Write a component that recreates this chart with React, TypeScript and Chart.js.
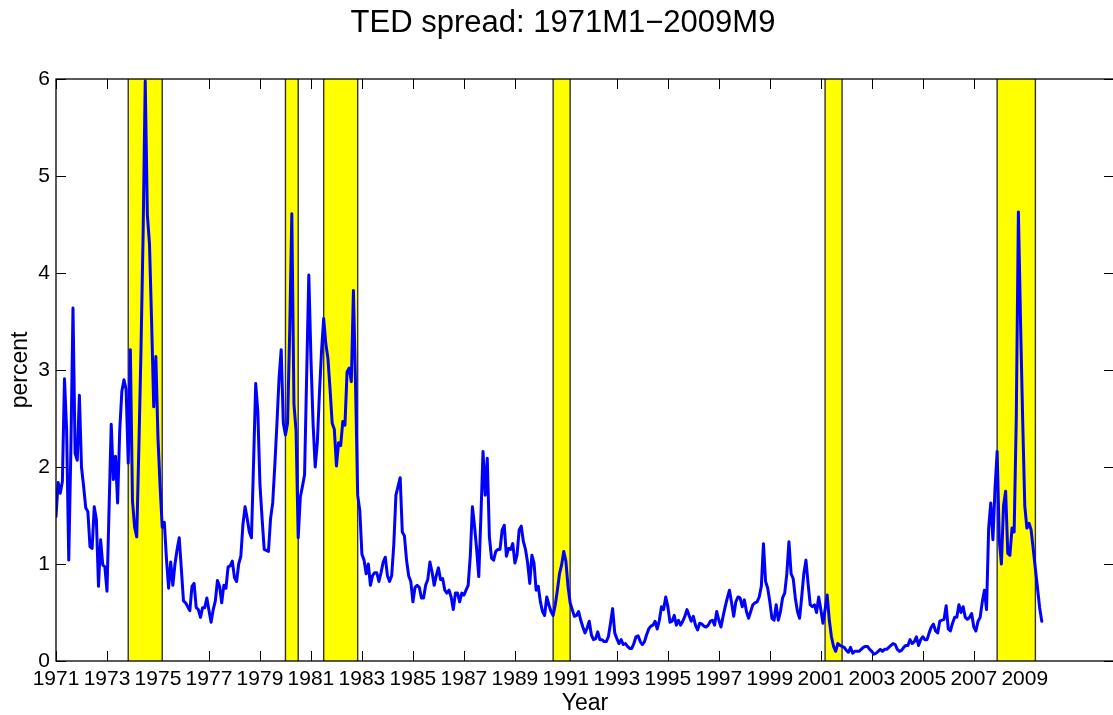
import React, { useEffect, useRef } from "react";
import { Chart, registerables } from "chart.js";

Chart.register(...registerables);

// ---------- DATA (monthly TED spread, percent) ----------
const FIRST_YEAR = 1971;
const ted1971 = [1.49, 1.84, 1.73, 1.85, 2.91, 2.38, 1.04, 2.18, 3.64, 2.14, 2.07, 2.74];
const ted1972 = [2.0, 1.8, 1.58, 1.54, 1.18, 1.16, 1.59, 1.46, 0.77, 1.25, 0.99, 0.97];
const ted1973 = [0.72, 1.59, 2.44, 1.87, 2.11, 1.63, 2.38, 2.78, 2.9, 2.8, 2.04, 3.21];
const ted1974 = [1.65, 1.38, 1.28, 2.2, 3.2, 4.4, 5.98, 4.6, 4.3, 3.5, 2.62, 3.14];
const ted1975 = [2.3, 1.8, 1.38, 1.43, 1.05, 0.75, 1.02, 0.78, 1.0, 1.15, 1.27, 0.95];
const ted1976 = [0.62, 0.6, 0.56, 0.52, 0.77, 0.8, 0.55, 0.53, 0.45, 0.55, 0.55, 0.65];
const ted1977 = [0.52, 0.4, 0.53, 0.62, 0.83, 0.77, 0.6, 0.78, 0.75, 0.97, 0.98, 1.03];
const ted1978 = [0.86, 0.82, 1.0, 1.08, 1.41, 1.59, 1.47, 1.33, 1.27, 2.05, 2.86, 2.57];
const ted1979 = [1.82, 1.47, 1.15, 1.14, 1.13, 1.47, 1.63, 2.02, 2.45, 2.92, 3.21, 2.45];
const ted1980 = [2.33, 2.45, 3.4, 4.61, 2.65, 2.37, 1.27, 1.69, 1.8, 1.92, 2.96, 3.98];
const ted1981 = [3.12, 2.45, 2.0, 2.25, 2.76, 3.2, 3.53, 3.27, 3.12, 2.8, 2.45, 2.39];
const ted1982 = [2.01, 2.25, 2.22, 2.47, 2.43, 2.98, 3.02, 2.88, 3.82, 2.84, 1.71, 1.55];
const ted1983 = [1.1, 1.04, 0.9, 1.0, 0.78, 0.88, 0.91, 0.91, 0.82, 0.91, 1.02, 1.07];
const ted1984 = [0.88, 0.82, 0.88, 1.2, 1.71, 1.8, 1.89, 1.33, 1.29, 1.04, 0.88, 0.82];
const ted1985 = [0.61, 0.76, 0.78, 0.76, 0.65, 0.65, 0.78, 0.84, 1.02, 0.92, 0.78, 0.88];
const ted1986 = [0.96, 0.84, 0.85, 0.73, 0.7, 0.73, 0.66, 0.53, 0.7, 0.7, 0.61, 0.7];
const ted1987 = [0.68, 0.73, 0.78, 1.08, 1.59, 1.39, 1.15, 0.87, 1.49, 2.16, 1.71, 2.09];
const ted1988 = [1.28, 1.06, 1.04, 1.13, 1.15, 1.15, 1.35, 1.4, 1.08, 1.16, 1.15, 1.21];
const ted1989 = [1.01, 1.09, 1.35, 1.39, 1.23, 1.15, 1.01, 0.8, 1.09, 1.01, 0.73, 0.77];
const ted1990 = [0.61, 0.51, 0.47, 0.66, 0.58, 0.51, 0.47, 0.58, 0.73, 0.9, 0.99, 1.13];
const ted1991 = [1.03, 0.77, 0.6, 0.53, 0.46, 0.47, 0.51, 0.42, 0.35, 0.29, 0.34, 0.41];
const ted1992 = [0.27, 0.22, 0.23, 0.3, 0.22, 0.22, 0.2, 0.2, 0.25, 0.39, 0.54, 0.29];
const ted1993 = [0.23, 0.18, 0.22, 0.17, 0.18, 0.15, 0.13, 0.13, 0.18, 0.25, 0.26, 0.2];
const ted1994 = [0.17, 0.2, 0.27, 0.33, 0.36, 0.37, 0.41, 0.33, 0.42, 0.56, 0.53, 0.66];
const ted1995 = [0.56, 0.4, 0.41, 0.47, 0.37, 0.42, 0.37, 0.41, 0.46, 0.53, 0.47, 0.41];
const ted1996 = [0.46, 0.37, 0.32, 0.39, 0.38, 0.36, 0.35, 0.37, 0.41, 0.42, 0.37, 0.51];
const ted1997 = [0.42, 0.35, 0.46, 0.56, 0.65, 0.73, 0.6, 0.46, 0.61, 0.66, 0.65, 0.56];
const ted1998 = [0.63, 0.51, 0.44, 0.51, 0.58, 0.6, 0.61, 0.66, 0.77, 1.21, 0.82, 0.75];
const ted1999 = [0.61, 0.44, 0.42, 0.58, 0.42, 0.51, 0.65, 0.7, 0.9, 1.23, 0.9, 0.85];
const ted2000 = [0.65, 0.51, 0.44, 0.66, 0.9, 1.04, 0.8, 0.58, 0.56, 0.58, 0.5, 0.66];
const ted2001 = [0.53, 0.39, 0.53, 0.68, 0.42, 0.25, 0.15, 0.1, 0.18, 0.16, 0.15, 0.14];
const ted2002 = [0.11, 0.09, 0.14, 0.08, 0.1, 0.1, 0.1, 0.12, 0.14, 0.15, 0.15, 0.12];
const ted2003 = [0.1, 0.07, 0.08, 0.1, 0.12, 0.1, 0.12, 0.12, 0.14, 0.16, 0.18, 0.17];
const ted2004 = [0.12, 0.1, 0.11, 0.14, 0.16, 0.16, 0.22, 0.18, 0.2, 0.25, 0.16, 0.22];
const ted2005 = [0.25, 0.22, 0.22, 0.29, 0.35, 0.38, 0.31, 0.29, 0.41, 0.42, 0.43, 0.57];
const ted2006 = [0.33, 0.31, 0.39, 0.45, 0.45, 0.58, 0.5, 0.56, 0.45, 0.43, 0.45, 0.49];
const ted2007 = [0.35, 0.31, 0.41, 0.45, 0.61, 0.73, 0.53, 1.37, 1.63, 1.25, 1.78, 2.16];
const ted2008 = [1.25, 1.0, 1.6, 1.75, 1.11, 1.09, 1.37, 1.33, 2.5, 4.63, 3.5, 2.5];
const ted2009 = [1.6, 1.37, 1.42, 1.35, 1.15, 0.95, 0.75, 0.55, 0.41];

const tedYears = [
  ted1971, ted1972, ted1973, ted1974, ted1975, ted1976, ted1977, ted1978, ted1979, ted1980,
  ted1981, ted1982, ted1983, ted1984, ted1985, ted1986, ted1987, ted1988, ted1989, ted1990,
  ted1991, ted1992, ted1993, ted1994, ted1995, ted1996, ted1997, ted1998, ted1999, ted2000,
  ted2001, ted2002, ted2003, ted2004, ted2005, ted2006, ted2007, ted2008, ted2009,
];

// NBER recessions (peak month -> trough month), decimal years
const recessionStarts = [1973 + 10 / 12, 1980 + 0 / 12, 1981 + 6 / 12, 1990 + 6 / 12, 2001 + 2 / 12, 2007 + 11 / 12];
const recessionEnds = [1975 + 2 / 12, 1980 + 6 / 12, 1982 + 10 / 12, 1991 + 2 / 12, 2001 + 10 / 12, 2009 + 5 / 12];

const xTickYears = [1971, 1973, 1975, 1977, 1979, 1981, 1983, 1985, 1987, 1989, 1991, 1993, 1995, 1997, 1999, 2001, 2003, 2005, 2007, 2009];
const yTickValues = [0, 1, 2, 3, 4, 5, 6];

const X_MIN = 1971;
const X_MAX = 2012.5;
const Y_MIN = 0;
const Y_MAX = 6;

const TITLE = "TED spread: 1971M1\u22122009M9";
const X_LABEL = "Year";
const Y_LABEL = "percent";

const FONT = '"Liberation Sans", Arial, Helvetica, sans-serif';

const CANVAS_W = 1120;
const CANVAS_H = 715;

const matlabAxes = {
  id: "matlabAxes",
  beforeDatasetsDraw(chart: any) {
    const { ctx, chartArea: a, scales } = chart;
    const xs = scales.x;
    const ys = scales.y;
    ctx.save();
    // inward ticks (drawn below patches, like MATLAB layer 'bottom')
    ctx.strokeStyle = "#000";
    ctx.lineWidth = 1;
    const tl = 10;
    ctx.beginPath();
    for (const yr of xTickYears) {
      const px = Math.round(xs.getPixelForValue(yr)) + 0.5;
      ctx.moveTo(px, a.bottom);
      ctx.lineTo(px, a.bottom - tl);
      ctx.moveTo(px, a.top);
      ctx.lineTo(px, a.top + tl);
    }
    for (const v of yTickValues) {
      const py = Math.round(ys.getPixelForValue(v)) + 0.5;
      ctx.moveTo(a.left, py);
      ctx.lineTo(a.left + tl, py);
      ctx.moveTo(a.right, py);
      ctx.lineTo(a.right - tl, py);
    }
    ctx.stroke();

    // recession bands
    for (let i = 0; i < recessionStarts.length; i++) {
      const x0 = xs.getPixelForValue(recessionStarts[i]);
      const x1 = xs.getPixelForValue(recessionEnds[i]);
      const yTop = ys.getPixelForValue(Y_MAX);
      const yBot = ys.getPixelForValue(Y_MIN);
      ctx.fillStyle = "#ffff00";
      ctx.fillRect(x0, yTop, x1 - x0, yBot - yTop);
      ctx.strokeStyle = "#333333";
      ctx.lineWidth = 1.4;
      ctx.beginPath();
      ctx.moveTo(x0, yTop);
      ctx.lineTo(x0, yBot);
      ctx.moveTo(x1, yTop);
      ctx.lineTo(x1, yBot);
      ctx.stroke();
    }
    ctx.restore();
  },
  afterDatasetsDraw(chart: any) {
    const { ctx, chartArea: a, scales } = chart;
    const xs = scales.x;
    const ys = scales.y;
    ctx.save();
    // axes box
    ctx.strokeStyle = "#000";
    ctx.lineWidth = 1.3;
    ctx.strokeRect(a.left, a.top, a.right - a.left, a.bottom - a.top);

    ctx.fillStyle = "#000";
    // x tick labels
    ctx.font = `21px ${FONT}`;
    ctx.textAlign = "center";
    ctx.textBaseline = "alphabetic";
    for (const yr of xTickYears) {
      ctx.fillText(String(yr), xs.getPixelForValue(yr), a.bottom + 24);
    }
    // y tick labels
    ctx.textAlign = "right";
    ctx.textBaseline = "middle";
    for (const v of yTickValues) {
      ctx.fillText(String(v), a.left - 6, ys.getPixelForValue(v));
    }
    // title
    ctx.font = `31px ${FONT}`;
    ctx.textAlign = "center";
    ctx.textBaseline = "alphabetic";
    ctx.fillText(TITLE, 563, 32);
    // x label
    ctx.font = `23px ${FONT}`;
    ctx.fillText(X_LABEL, (a.left + 1114) / 2, 710);
    // y label
    ctx.save();
    ctx.translate(27, (a.top + a.bottom) / 2);
    ctx.rotate(-Math.PI / 2);
    ctx.textAlign = "center";
    ctx.textBaseline = "alphabetic";
    ctx.fillText(Y_LABEL, 0, 0);
    ctx.restore();
    ctx.restore();
  },
};

export default function App() {
  const canvasRef = useRef<HTMLCanvasElement | null>(null);

  useEffect(() => {
    document.body.style.margin = "0";
    const canvas = canvasRef.current;
    if (!canvas) return;
    const points: { x: number; y: number }[] = [];
    tedYears.forEach((vals, yi) => {
      vals.forEach((v, mi) => {
        points.push({ x: FIRST_YEAR + yi + mi / 12, y: v });
      });
    });

    const chart = new Chart(canvas, {
      type: "line",
      data: {
        datasets: [
          {
            label: "TED spread",
            data: points,
            borderColor: "#0000ff",
            borderWidth: 3,
            pointRadius: 0,
            tension: 0,
            fill: false,
            borderJoinStyle: "round",
            borderCapStyle: "round",
          } as any,
        ],
      },
      options: {
        responsive: false,
        animation: false,
        devicePixelRatio: 1,
        layout: { padding: { left: 56, top: 79, right: CANVAS_W - 1114, bottom: CANVAS_H - 661 } },
        scales: {
          x: { type: "linear", min: X_MIN, max: X_MAX, display: false },
          y: { type: "linear", min: Y_MIN, max: Y_MAX, display: false },
        },
        plugins: {
          legend: { display: false },
          tooltip: { enabled: false },
          title: { display: false },
        },
      },
      plugins: [matlabAxes],
    });
    return () => chart.destroy();
  }, []);

  return (
    <div
      style={{
        position: "absolute",
        left: 0,
        top: 0,
        width: 1113,
        height: 715,
        overflow: "hidden",
        background: "#fff",
      }}
    >
      <canvas ref={canvasRef} width={CANVAS_W} height={CANVAS_H} style={{ display: "block" }} />
    </div>
  );
}
